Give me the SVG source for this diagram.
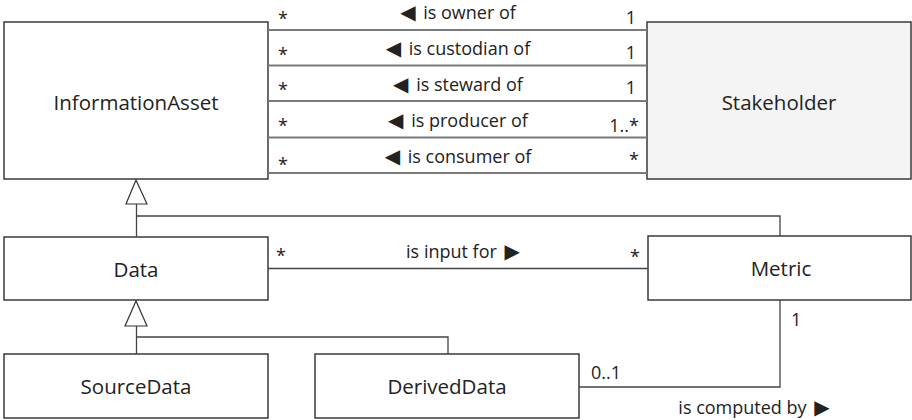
<svg xmlns="http://www.w3.org/2000/svg" width="912" height="420" viewBox="0 0 912 420">
<style>
.box{fill:#ffffff;stroke:#3a3a3a;stroke-width:1.5}
.gray{fill:#f4f4f4}
.name{font-family:"Open Sans","DejaVu Sans",sans-serif;font-size:20.5px;fill:#222;text-anchor:middle}
.lbl{font-family:"Open Sans","DejaVu Sans",sans-serif;font-size:18px;fill:#222}
.mid{text-anchor:middle}
.end{text-anchor:end}
.tri{font-family:"DejaVu Sans",sans-serif;font-size:20px}
.assoc{stroke:#7a7a7a;stroke-width:1.8;fill:none}
.line{stroke:#444;stroke-width:1.3;fill:none}
.gen{fill:#fff;stroke:#333;stroke-width:1.2}
</style>
<g id="InformationAsset"><rect class="box" x="4" y="22" width="264" height="157"/><text class="name" x="136" y="110">InformationAsset</text></g>
<g id="Stakeholder"><rect class="box gray" x="647" y="22" width="264" height="157"/><text class="name" x="779" y="110">Stakeholder</text></g>
<g id="Data"><rect class="box" x="4" y="237" width="264" height="63"/><text class="name" x="136" y="277">Data</text></g>
<g id="Metric"><rect class="box" x="648" y="236" width="263" height="64"/><text class="name" x="781" y="276">Metric</text></g>
<g id="SourceData"><rect class="box" x="4" y="354" width="264" height="64"/><text class="name" x="136" y="394">SourceData</text></g>
<g id="DerivedData"><rect class="box" x="315" y="354" width="264" height="64"/><text class="name" x="447" y="394">DerivedData</text></g>
<g id="connectors">
<line class="assoc" x1="268" y1="30" x2="647" y2="30"/>
<line class="assoc" x1="268" y1="65.5" x2="647" y2="65.5"/>
<line class="assoc" x1="268" y1="101" x2="647" y2="101"/>
<line class="assoc" x1="268" y1="137.5" x2="647" y2="137.5"/>
<line class="assoc" x1="268" y1="173" x2="647" y2="173"/>
<text class="lbl mid" x="458" y="19"><tspan class="tri">◀</tspan> <tspan dx="3">is owner of</tspan></text>
<text class="lbl mid" x="458" y="55"><tspan class="tri">◀</tspan> <tspan dx="3">is custodian of</tspan></text>
<text class="lbl mid" x="458" y="91"><tspan class="tri">◀</tspan> <tspan dx="3">is steward of</tspan></text>
<text class="lbl mid" x="458" y="127"><tspan class="tri">◀</tspan> <tspan dx="3">is producer of</tspan></text>
<text class="lbl mid" x="458" y="163"><tspan class="tri">◀</tspan> <tspan dx="3">is consumer of</tspan></text>
<text class="lbl mid" x="283" y="25">*</text>
<text class="lbl mid" x="283" y="61">*</text>
<text class="lbl mid" x="283" y="96">*</text>
<text class="lbl mid" x="283" y="132">*</text>
<text class="lbl mid" x="283" y="171">*</text>
<text class="lbl end" x="636" y="24">1</text>
<text class="lbl end" x="636" y="59">1</text>
<text class="lbl end" x="636" y="94">1</text>
<text class="lbl end" x="639" y="132">1..*</text>
<text class="lbl end" x="639" y="166">*</text>
<polygon class="gen" points="136,180 126,204 147,204"/>
<polyline class="line" points="136.5,204 136.5,237"/>
<polyline class="line" points="136.5,216 780,216 780,236"/>
<line class="line" x1="268" y1="268.5" x2="648" y2="268.5"/>
<text class="lbl mid" x="463" y="258">is input for <tspan class="tri" dx="3">▶</tspan></text>
<text class="lbl mid" x="281" y="262">*</text>
<text class="lbl mid" x="635" y="263">*</text>
<polygon class="gen" points="136,301 125,326 147,326"/>
<polyline class="line" points="136.5,326 136.5,354"/>
<polyline class="line" points="136.5,337 448,337 448,354"/>
<polyline class="line" points="579,387 780,387 780,300"/>
<text class="lbl" x="591" y="379">0..1</text>
<text class="lbl" x="791" y="326">1</text>
<text class="lbl mid" x="754" y="414">is computed by <tspan class="tri" dx="3">▶</tspan></text>
</g>
</svg>
